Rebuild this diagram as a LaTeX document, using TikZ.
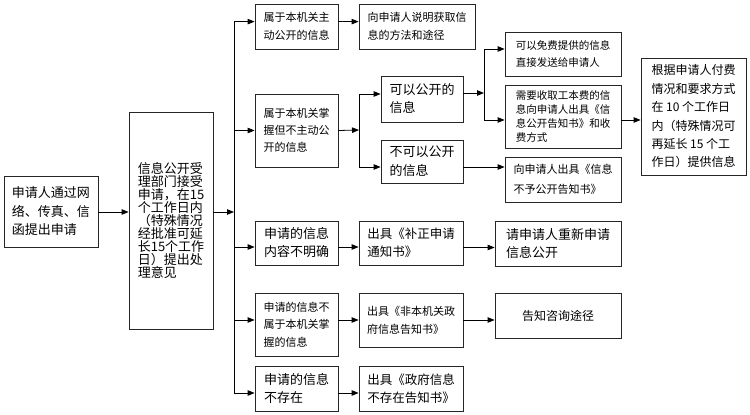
\documentclass[tikz,border=0pt]{standalone}
\usepackage{fontspec}
\setmainfont{Noto Sans CJK SC}
\usetikzlibrary{arrows.meta}
\newcommand\fs[2]{\fontsize{#1}{#2}\selectfont}
\tikzset{
  box/.style={draw=black!85, line width=0.8pt, inner sep=0pt, align=left},
  arr/.style={draw=black, line width=0.8pt, -{Triangle[length=7pt,width=5.5pt]}},
  ln/.style={draw=black, line width=0.8pt},
}
\begin{document}
\begin{tikzpicture}[x=1pt,y=-1pt]
\useasboundingbox[fill=white] (0,0) rectangle (750,415);
% boxes
\node[box, minimum width=94pt, minimum height=71pt, font={\fs{13}{18.5}}] (A) at (51,211.5) {申请人通过网\\络、传真、信\\函提出申请};
\node[box, minimum width=84pt, minimum height=217pt, font={\fs{13}{13}}] (B) at (171,220.5) {信息公开受\\理部门接受\\申请，在15\\个工作日内\\（特殊情况\\经批准可延\\长15个工作\\日）提出处\\理意见};
\node[box, minimum width=83pt, minimum height=45pt, font={\fs{11}{18}}] (C1) at (296.5,26.5) {属于本机关主\\动公开的信息};
\node[box, minimum width=116pt, minimum height=45pt, font={\fs{11}{18}}] (C2) at (417,26.5) {向申请人说明获取信\\息的方法和途径};
\node[box, minimum width=83pt, minimum height=73pt, font={\fs{11}{17}}] (D) at (296.5,130.5) {属于本机关掌\\握但不主动公\\开的信息};
\node[box, minimum width=82pt, minimum height=46pt, font={\fs{13}{18}}] (E1) at (422,99) {可以公开的\\信息};
\node[box, minimum width=82pt, minimum height=43pt, font={\fs{13}{19}}] (E2) at (422,161.5) {不可以公开\\的信息};
\node[box, minimum width=116pt, minimum height=44pt, font={\fs{10.5}{17}}] (F1) at (563,54) {可以免费提供的信息\\直接发送给申请人};
\node[box, minimum width=116pt, minimum height=63pt, font={\fs{10.5}{13.7}}] (F2) at (563,116.5) {需要收取工本费的信\\息向申请人出具《信\\息公开告知书》和收\\费方式};
\node[box, minimum width=116pt, minimum height=45pt, font={\fs{11}{20}}] (F3) at (563,179.5) {向申请人出具《信息\\不予公开告知书》};
\node[box, minimum width=105pt, minimum height=117pt, font={\fs{12}{18.4}}] (G) at (693.5,116.5) {根据申请人付费\\情况和要求方式\\在 10 个工作日\\内（特殊情况可\\再延长 15 个工\\作日）提供信息};
\node[box, minimum width=83pt, minimum height=44pt, font={\fs{13}{18}}] (H1) at (296.5,243) {申请的信息\\内容不明确};
\node[box, minimum width=104pt, minimum height=44pt, font={\fs{12.5}{18}}] (H2) at (411,243) {出具《补正申请\\通知书》};
\node[box, minimum width=126pt, minimum height=45pt, font={\fs{13}{18}}] (H3) at (558,243.5) {请申请人重新申请\\信息公开};
\node[box, minimum width=83pt, minimum height=63pt, font={\fs{11}{17.5}}] (I1) at (296.5,324.5) {申请的信息不\\属于本机关掌\\握的信息};
\node[box, minimum width=104pt, minimum height=54pt, font={\fs{11}{18}}] (I2) at (411,320) {出具《非本机关政\\府信息告知书》};
\node[box, minimum width=126pt, minimum height=45pt, font={\fs{12}{18}}] (I3) at (558,315.5) {告知咨询途径};
\node[box, minimum width=83pt, minimum height=45pt, font={\fs{13}{18}}] (J1) at (296.5,388.5) {申请的信息\\不存在};
\node[box, minimum width=104pt, minimum height=45pt, font={\fs{12.5}{18}}] (J2) at (411,388.5) {出具《政府信息\\不存在告知书》};
% junction coordinates
\coordinate (t) at (234,212);
\coordinate (dj) at (359,130);
\coordinate (ej) at (484,93);
% connectors
\draw[arr] (A.east |- 0,212) -- (B.west |- 0,212);
\draw[arr] (B.east |- t) -- (t);
\draw[ln] (t |- C1.north) ++(0,18) coordinate (ttop);
\draw[ln] (ttop) -- (t |- 0,393) coordinate (tbot);
\draw[arr] (ttop) -- (ttop -| C1.west);
\draw[arr] (t |- D.west) -- (D.west);
\draw[arr] ([yshift=-4pt]t |- H1.west) -- ([yshift=-4pt]H1.west);
\draw[arr] ([yshift=4.5pt]t |- I1.west) -- ([yshift=4.5pt]I1.west);
\draw[arr] (tbot) -- (tbot -| J1.west);
\draw[arr] (ttop -| C1.east) -- (ttop -| C2.west);
% D branch
\draw[arr] (D.east) -- (dj);
\draw[ln] (dj |- 0,94) -- (dj |- 0,167);
\draw[arr] (dj |- 0,94) -- (E1.west |- 0,94);
\draw[arr] (dj |- 0,167) -- (E2.west |- 0,167);
% E1 branch
\draw[arr] (E1.east |- ej) -- (ej);
\draw[ln] (ej |- 0,49) -- (ej |- 0,120);
\draw[arr] (ej |- 0,49) -- (F1.west |- 0,49);
\draw[arr] (ej |- 0,120) -- (F2.west |- 0,120);
% E2 to F3
\draw[arr] (E2.east |- 0,167) -- (F3.west |- 0,167);
% F2 to G
\draw[arr] (F2.east |- 0,120) -- (G.west |- 0,120);
% H, I rows
\draw[arr] ([yshift=-4pt]H1.east) -- ([yshift=-4pt]H1.east -| H2.west);
\draw[arr] ([yshift=-4.5pt]H2.east) -- ([yshift=-4.5pt]H2.east -| H3.west);
\draw[arr] (I1.east |- I2.east) -- (I2.east -| I1.east) -- (I2.west);
\draw[arr] (I2.east) -- (I2.east -| I3.west);
\draw[arr] (tbot -| J1.east) -- (tbot -| J2.west);
\end{tikzpicture}
\end{document}
